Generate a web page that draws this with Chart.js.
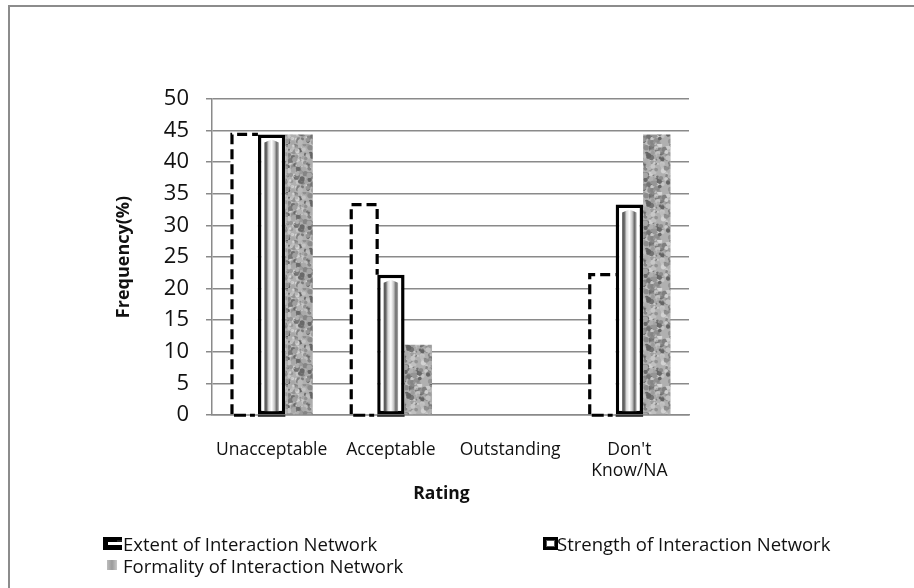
<!DOCTYPE html>
<html>
<head>
<meta charset="utf-8">
<script src="https://cdn.jsdelivr.net/npm/chart.js@4"></script>
<style>
  html, body { margin: 0; padding: 0; background: #fff; }
  #wrap { position: relative; width: 914px; height: 588px; overflow: hidden; font-family: "Open Sans", sans-serif; }
  #frame { position: absolute; left: 8px; top: 5px; width: 1000px; height: 1000px; border: 2px solid #8c8c8c; box-sizing: border-box; }
  canvas { position: absolute; left: 0; top: 0; }
  .leg { position: absolute; font-size: 18.5px; color: #111; white-space: nowrap; line-height: 22px; }
  .mk { position: absolute; }
</style>
</head>
<body>
<div id="wrap">
  <div id="frame"></div>
  <canvas id="c" width="914" height="588"></canvas>
  <div class="leg" id="leg0" style="left:123px; top:533px;"></div>
  <div class="leg" id="leg1" style="left:557px; top:533px;"></div>
  <div class="leg" id="leg2" style="left:123px; top:555px;"></div>
</div>
<script>
// ---- data ----
const categories = ["Unacceptable", "Acceptable", "Outstanding", ["Don't", "Know/NA"]];
const seriesNames = ["Extent of Interaction Network", "Strength of Interaction Network", "Formality of Interaction Network"];
const extentValues = [44.4, 33.3, 0, 22.2];
const strengthValues = [44.4, 22.2, 0, 33.3];
const formalityValues = [44.4, 11.1, 0, 44.4];
const yTicks = [0, 5, 10, 15, 20, 25, 30, 35, 40, 45, 50];
const xTitle = "Rating";
const yTitle = "Frequency(%)";

// ---- deterministic noise texture for the "Formality" series ----
function makeNoisePattern(ctx) {
  const pc = document.createElement('canvas');
  pc.width = 48; pc.height = 48;
  const p = pc.getContext('2d');
  p.fillStyle = '#b0b0b0';
  p.fillRect(0, 0, 48, 48);
  let s = 12345;
  const rnd = () => { s = (s * 1103515245 + 12345) & 0x7fffffff; return s / 0x7fffffff; };
  for (let i = 0; i < 300; i++) {
    const x = rnd() * 48, y = rnd() * 48, r = 0.8 + rnd() * 2.0;
    const g = Math.floor(100 + rnd() * 115);
    p.fillStyle = `rgb(${g},${g},${g})`;
    for (const dx of [0, -48]) for (const dy of [0, -48]) {
      p.beginPath(); p.arc(x + dx, y + dy, r, 0, Math.PI * 2); p.fill();
    }
  }
  return ctx.createPattern(pc, 'repeat');
}

const canvas = document.getElementById('c');
const ctx = canvas.getContext('2d');
const noise = makeNoisePattern(ctx);

// Custom decoration plugin: dashed outline for Extent, bevel stripes inside Strength, x title
const decor = {
  id: 'decor',
  afterDatasetsDraw(chart) {
    const c = chart.ctx;
    const strengthMeta = chart.getDatasetMeta(1).data;
    // Extent: dashed outline
    chart.getDatasetMeta(0).data.forEach((el, i) => {
      if (!extentValues[i]) return;
      const p = el.getProps(['x', 'y', 'base', 'width'], true);
      const sTop = strengthMeta[i].getProps(['y'], true).y;
      const l = p.x - p.width / 2 + 1.5, r = p.x + p.width / 2, t = p.y, b = p.base;
      c.save();
      c.strokeStyle = '#000';
      c.lineWidth = 3.2;
      c.setLineDash([10, 5]);
      c.beginPath();
      c.moveTo(l, b); c.lineTo(l, t); c.lineTo(r, t);
      if (sTop > t) c.lineTo(r, sTop);
      c.stroke();
      c.setLineDash([12, 4]);
      c.beginPath(); c.moveTo(l + 2, b + 1); c.lineTo(r - 3, b + 1); c.stroke();
      c.restore();
    });
    // Strength: inner bevel stripes
    strengthMeta.forEach((el, i) => {
      if (!strengthValues[i]) return;
      const p = el.getProps(['x', 'y', 'base', 'width'], true);
      const l = p.x - p.width / 2 + 6.5, r = p.x + p.width / 2 - 6.5, t = p.y + 5, b = p.base - 3;
      const g = c.createLinearGradient(l, 0, r, 0);
      g.addColorStop(0, '#555');
      g.addColorStop(0.15, '#666');
      g.addColorStop(0.3, '#d8d8d8');
      g.addColorStop(0.5, '#ffffff');
      g.addColorStop(0.7, '#c4c4c4');
      g.addColorStop(0.85, '#6a6a6a');
      g.addColorStop(1, '#aaa');
      c.save();
      c.fillStyle = g;
      c.beginPath();
      c.moveTo(l, b); c.lineTo(l, t + 3); c.lineTo((l + r) / 2, t); c.lineTo(r, t + 3); c.lineTo(r, b);
      c.closePath();
      c.fill();
      c.strokeStyle = '#333'; c.lineWidth = 2.2;
      c.beginPath(); c.moveTo(p.x - p.width / 2, p.base + 1.5); c.lineTo(p.x + p.width / 2, p.base + 1.5); c.stroke();
      c.restore();
    });
  },
  afterDraw(chart) {
    const c = chart.ctx, a = chart.chartArea;
    c.save();
    c.fillStyle = '#111';
    c.font = 'bold 17.5px "Open Sans"';
    c.textAlign = 'center';
    c.textBaseline = 'middle';
    c.fillText(xTitle, (a.left + a.right) / 2 - 9, 494);
    c.restore();
  }
};

const chart = new Chart(canvas, {
  type: 'bar',
  data: {
    labels: categories,
    datasets: [
      { label: seriesNames[0], data: extentValues, backgroundColor: '#ffffff', borderWidth: 0 },
      { label: seriesNames[1], data: strengthValues, backgroundColor: '#ffffff', borderColor: '#000', borderWidth: 3.5, borderSkipped: false },
      { label: seriesNames[2], data: formalityValues, backgroundColor: noise, borderWidth: 0 }
    ]
  },
  options: {
    responsive: false,
    animation: false,
    devicePixelRatio: 1,
    layout: { padding: { left: 113, right: 225, top: 99, bottom: 83 } },
    datasets: { bar: { categoryPercentage: 0.69, barPercentage: 1 } },
    plugins: { legend: { display: false }, tooltip: { enabled: false } },
    scales: {
      x: {
        grid: { display: false, drawTicks: false },
        border: { display: true, color: '#8a8a8a', width: 1.5 },
        ticks: { color: '#111', font: { family: 'Open Sans', size: 17.5 }, padding: 25, maxRotation: 0, autoSkip: false },
        title: { display: false },
        afterFit(s) { s.height = 90; }
      },
      y: {
        min: 0, max: 50,
        afterBuildTicks(s) { s.ticks = yTicks.map(v => ({ value: v })); },
        grid: { color: '#8a8a8a', lineWidth: 1.5, tickLength: 6, drawTicks: true },
        border: { display: true, color: '#8a8a8a', width: 1.5 },
        ticks: { color: '#111', font: { family: 'Open Sans', size: 22 }, padding: 17 },
        title: { display: true, text: yTitle, color: '#111', font: { family: 'Open Sans', size: 18, weight: 'bold' }, padding: { top: 0, bottom: 0 } },
        afterFit(s) { s.width = 99; }
      }
    }
  },
  plugins: [decor]
});

// ---- HTML legend (two columns like the original) ----
const markerPos = [[103, 537], [543, 537], [107, 560]];
function marker(kind) {
  const m = document.createElement('canvas');
  m.className = 'mk';
  const g = m.getContext('2d');
  if (kind === 0) {
    m.width = 19; m.height = 13;
    g.fillStyle = '#000';
    g.fillRect(0, 0, 19, 5); g.fillRect(0, 8, 19, 5); g.fillRect(0, 0, 5, 13);
    g.fillStyle = '#222'; g.fillRect(14, 3, 5, 2);
  } else if (kind === 1) {
    m.width = 15; m.height = 13;
    g.fillStyle = '#000'; g.fillRect(0, 0, 15, 13);
    g.fillStyle = '#555'; g.fillRect(3, 3, 9, 7);
    g.fillStyle = '#fff'; g.fillRect(4, 4, 7, 5);
  } else {
    m.width = 10; m.height = 10;
    const gr = g.createLinearGradient(0, 0, 10, 0);
    gr.addColorStop(0, '#bdbdbd'); gr.addColorStop(0.5, '#9a9a9a'); gr.addColorStop(1, '#c8c8c8');
    g.fillStyle = gr; g.fillRect(0, 0, 10, 10);
  }
  m.style.left = markerPos[kind][0] + 'px';
  m.style.top = markerPos[kind][1] + 'px';
  return m;
}
const wrap = document.getElementById('wrap');
seriesNames.forEach((n, i) => {
  wrap.appendChild(marker(i));
  document.getElementById('leg' + i).textContent = n;
});
</script>
</body>
</html>
